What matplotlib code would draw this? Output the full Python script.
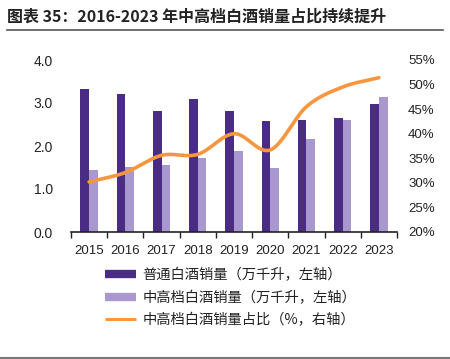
import numpy as np
import matplotlib
matplotlib.use("Agg")
import matplotlib.pyplot as plt
from matplotlib.lines import Line2D

plt.rcParams['font.family'] = ['Noto Sans CJK SC', 'DejaVu Sans']

years = ['2015', '2016', '2017', '2018', '2019', '2020', '2021', '2022', '2023']
regular = [3.33, 3.20, 2.81, 3.09, 2.82, 2.57, 2.60, 2.65, 2.97]
premium = [1.44, 1.51, 1.55, 1.72, 1.88, 1.49, 2.17, 2.60, 3.14]
share = [30.2, 32.1, 35.6, 35.8, 40.0, 36.7, 45.5, 49.5, 51.4]
left_ticks = ['0.0', '1.0', '2.0', '3.0', '4.0']
right_ticks = ['20%', '25%', '30%', '35%', '40%', '45%', '50%', '55%']
labels = ['普通白酒销量（万千升，左轴）', '中高档白酒销量（万千升，左轴）', '中高档白酒销量占比（%，右轴）']

c_dark = '#4B2C84'
c_light = '#A898CE'
c_orange = '#F7963F'

W, H = 450, 359
fig = plt.figure(figsize=(W / 100, H / 100), dpi=100)
ax = fig.add_axes([71 / W, 1 - 232 / H, (397 - 71) / W, (232 - 60) / H])
ax2 = ax.twinx()

x = np.arange(len(years))
bw = 0.24
ax.bar(x - bw / 2, regular, width=bw, color=c_dark, zorder=2)
ax.bar(x + bw / 2, premium, width=bw, color=c_light, zorder=2)

# Smooth curve through data points (Catmull-Rom)
px = x.astype(float)
py = np.array(share, dtype=float)
P = np.column_stack([px, py])
P = np.vstack([2 * P[0] - P[1], P, 2 * P[-1] - P[-2]])
cx, cy = [], []
for i in range(1, len(P) - 2):
    p0, p1, p2, p3 = P[i - 1], P[i], P[i + 1], P[i + 2]
    t = np.linspace(0, 1, 30)[:, None]
    seg = 0.5 * ((2 * p1) + (-p0 + p2) * t + (2 * p0 - 5 * p1 + 4 * p2 - p3) * t ** 2
                 + (-p0 + 3 * p1 - 3 * p2 + p3) * t ** 3)
    cx.extend(seg[:, 0]); cy.extend(seg[:, 1])
ax2.plot(cx, cy, color=c_orange, lw=2.6, solid_capstyle='round', zorder=3)

ax.set_xlim(-0.5, len(years) - 0.5)
ax.set_ylim(0, 4)
ax2.set_ylim(20, 55)
ax.set_yticks([0, 1, 2, 3, 4])
ax.set_yticklabels(left_ticks)
ax2.set_yticks([20, 25, 30, 35, 40, 45, 50, 55])
ax2.set_yticklabels(right_ticks)
ax.set_xticks(x)
ax.set_xticklabels(years)
ax.set_xticks(np.arange(-0.5, len(years), 1), minor=True)

for a in (ax, ax2):
    for s in ['top', 'left', 'right']:
        a.spines[s].set_visible(False)
ax2.spines['bottom'].set_visible(False)
ax.spines['bottom'].set_color('#222222')
ax.spines['bottom'].set_linewidth(1.2)
ax.tick_params(axis='x', which='major', length=0, pad=9, labelsize=9.5, labelcolor='#222222')
ax.tick_params(axis='x', which='minor', length=4, direction='out', color='#222222', width=1)
ax.tick_params(axis='y', length=0, pad=13, labelsize=10, labelcolor='#222222')
ax2.tick_params(axis='y', length=0, pad=8, labelsize=9.5, labelcolor='#222222')
for lab in ax.get_xticklabels() + ax.get_yticklabels() + ax2.get_yticklabels():
    lab.set_family(['Liberation Sans', 'DejaVu Sans'])

handles = [Line2D([], [], color=c_dark, lw=6, solid_capstyle='butt'),
           Line2D([], [], color=c_light, lw=6, solid_capstyle='butt'),
           Line2D([], [], color=c_orange, lw=2.2, solid_capstyle='butt')]
fig.legend(handles, labels, loc='upper left', bbox_to_anchor=(105 / W, 1 - 268 / H),
           frameon=False, fontsize=10.3, handlelength=2.2, handletextpad=0.4,
           labelspacing=0.58, borderpad=0, borderaxespad=0, labelcolor='#222222')

fig.text(7 / W, 1 - 17 / H, '图表 35：2016-2023 年中高档白酒销量占比持续提升',
         fontsize=11.5, fontweight='bold', va='center', ha='left', color='#222222')
fig.add_artist(Line2D([7 / W, 443 / W], [1 - 29.5 / H, 1 - 29.5 / H], color='#555555', lw=1.2))
fig.add_artist(Line2D([0, 1], [1 - 357.5 / H, 1 - 357.5 / H], color='#777777', lw=1.5))

fig.savefig('out.png', dpi=100)
